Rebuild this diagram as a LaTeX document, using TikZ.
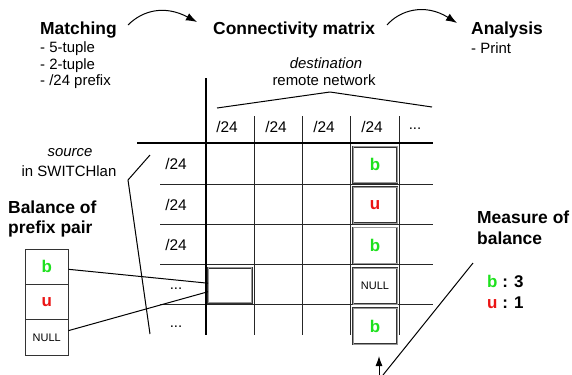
\documentclass[tikz,border=0pt]{standalone}
\usepackage{fontspec}
\setmainfont{Liberation Sans}
\usetikzlibrary{arrows.meta}
\definecolor{bgreen}{RGB}{30,225,30}
\definecolor{bred}{RGB}{235,20,20}
\begin{document}
\begin{tikzpicture}[x=1bp,y=-1bp,
  title/.style={font=\fontsize{17.5}{19}\selectfont\bfseries, inner sep=0, anchor=west},
  txt/.style={font=\fontsize{15}{17}\selectfont, inner sep=0},
  thin/.style={line width=0.9bp, draw=black!85},
  thick/.style={line width=2.2bp, draw=black},
  mbox/.style={draw=black!80, double=black!40, double distance=0.8bp, line width=0.5bp,
    fill=white, minimum width=44bp, minimum height=36bp, inner sep=0,
    font=\fontsize{17}{19}\selectfont\bfseries},
  pbox/.style={draw=black!80, line width=1bp, fill=white, minimum width=42.7bp,
    minimum height=35.5bp, inner sep=0, font=\fontsize{17}{19}\selectfont\bfseries},
  nulltxt/.style={font=\fontsize{11}{12}\selectfont\mdseries},
  flow/.style={line width=1bp, -{Latex[length=11bp,width=8bp]}}]
\useasboundingbox (0,0) rectangle (572,374);

% titles
\node[title] (matching) at (40,30) {Matching};
\node[txt, anchor=west] (m1) at (40,49) {- 5-tuple};
\node[txt, anchor=west] (m2) at (40,66) {- 2-tuple};
\node[txt, anchor=west] (m3) at (40,82) {- /24 prefix};
\node[title] (conn) at (213,30) {Connectivity matrix};
\node[title] (analysis) at (471,30) {Analysis};
\node[txt, anchor=west] (print) at (471,48) {- Print};

% flow arrows
\coordinate (a1s) at (128,25);
\coordinate (a1e) at (197,22);
\coordinate (a2s) at (387,25);
\coordinate (a2e) at (457,23);
\draw[flow] (a1s) .. controls (143,10) and (165,5) .. (a1e);
\draw[flow] (a2s) .. controls (400,10) and (425,3) .. (a2e);

% destination / source labels
\node[txt] (dest) at (326,63) {\itshape destination};
\node[txt] (remote) at (324,80) {remote network};
\node[txt] (src) at (70,153) {\itshape source};
\node[txt] (swl) at (69,171) {in SWITCHlan};

% brackets
\draw[line width=1bp] (217,108) -- (330,92) -- (432,107);
\draw[line width=1bp] (150,155) -- (128,180) -- (150,334);

% grid
\foreach \x in {254,302,350.5,399} \draw[thin] (\x,116) -- (\x,335);
\foreach \y in {184,224,264,304} \draw[thin] (160,\y) -- (433,\y);
\draw[thick] (137,143) -- (433,143);
\draw[thick] (206,78) -- (206,335);

% headers
\node[txt, font=\fontsize{15.5}{17}\selectfont] (c1) at (227,127) {/24};
\node[txt, font=\fontsize{15.5}{17}\selectfont] (c2) at (276,127) {/24};
\node[txt, font=\fontsize{15.5}{17}\selectfont] (c3) at (324,127) {/24};
\node[txt, font=\fontsize{15.5}{17}\selectfont] (c4) at (372,127) {/24};
\node[txt] (c5) at (415,129) {...};
\node[txt, font=\fontsize{15.5}{17}\selectfont] (r1) at (176,164) {/24};
\node[txt, font=\fontsize{15.5}{17}\selectfont] (r2) at (176,205) {/24};
\node[txt, font=\fontsize{15.5}{17}\selectfont] (r3) at (176,245) {/24};
\node[txt] (r4) at (176,289) {...};
\node[txt] (r5) at (176,327) {...};

% highlighted column
\node[mbox, text=bgreen] (k1) at (375,164.7) {b};
\node[mbox, text=bred] (k2) at (375,205) {u};
\node[mbox, text=bgreen] (k3) at (375,245.5) {b};
\node[mbox, nulltxt] (k4) at (375,286) {NULL};
\node[mbox, text=bgreen] (k5) at (375,326) {b};
\node[mbox, minimum width=43.4bp, minimum height=35bp] (cb) at (230,285.2) {};

% balance of prefix pair
\node[title] (bal1) at (8,207) {Balance of};
\node[title] (bal2) at (8,229) {prefix pair};
\node[pbox, text=bgreen] (pb) at (46.7,266.8) {b};
\node[pbox, text=bred] (pu) at (46.7,302.2) {u};
\node[pbox, nulltxt] (pn) at (46.7,337.6) {NULL};
\draw[line width=1bp] ([yshift=-2.5bp]pb.east) -- ([yshift=2bp]cb.west);
\draw[line width=1bp] ([yshift=7bp]pn.east) -- ([yshift=-6.5bp]cb.west);

% measure of balance
\node[title] (meas1) at (477,217) {Measure of};
\node[title] (meas2) at (477,238) {balance};
\node[txt, anchor=west, font=\fontsize{17}{18}\selectfont\bfseries] (mb) at (487,281) {\textcolor{bgreen}{b} : 3};
\node[txt, anchor=west, font=\fontsize{17}{18}\selectfont\bfseries] (mu) at (487,303) {\textcolor{bred}{u} : 1};
\coordinate (ms) at (473,263);
\coordinate (me) at (383,375);
\draw[line width=1bp] (ms) -- (me);
\coordinate (ua) at (379,375);
\coordinate (ub) at (379,356);
\draw[line width=1bp, -{Latex[length=10bp,width=7bp]}] (ua) -- (ub);
\end{tikzpicture}
\end{document}
